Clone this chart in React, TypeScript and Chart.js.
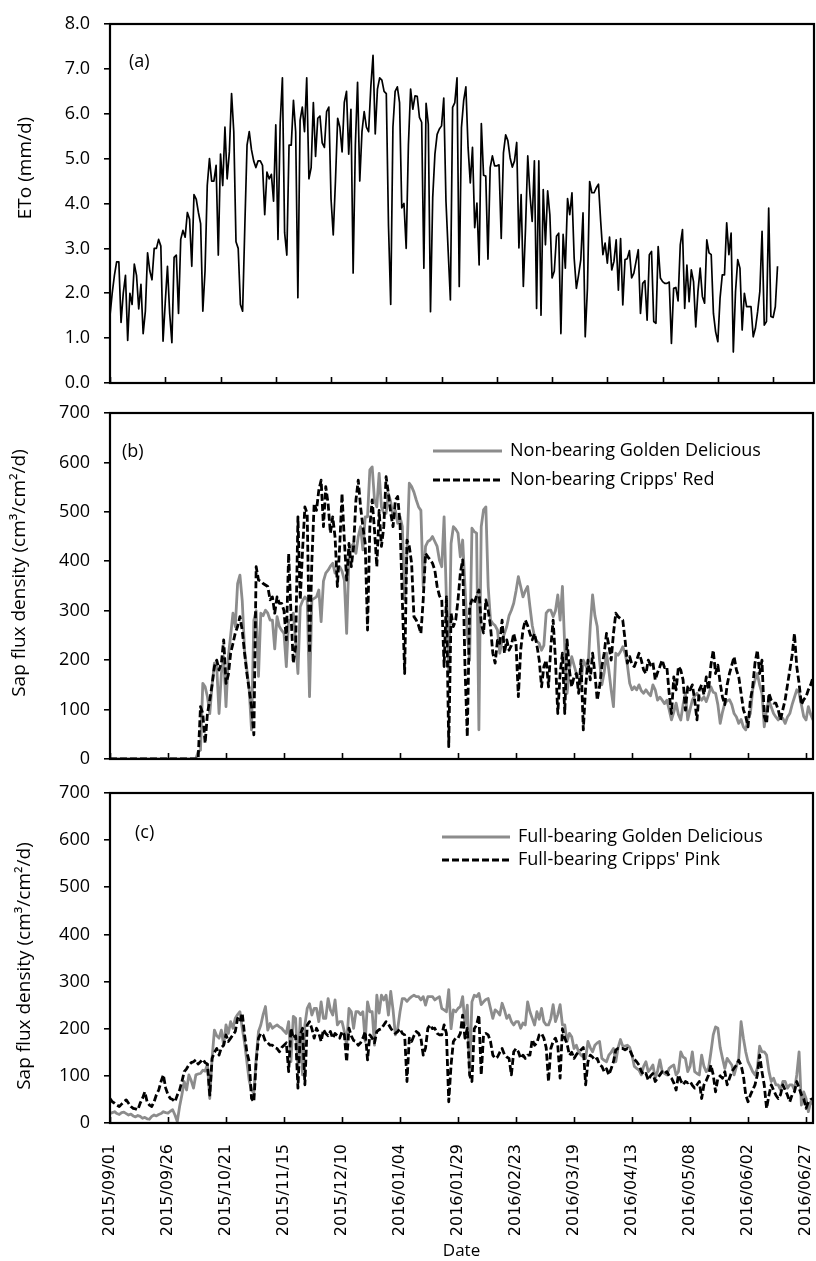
import React, { useEffect, useRef } from 'react';
import { Chart, registerables } from 'chart.js';

Chart.register(...registerables);

// ---------- data ----------
const TICK_DAYS = [0, 25, 50, 75, 100, 125, 150, 175, 200, 225, 250, 275, 300];
const DATE_LABELS = [
  '2015/09/01', '2015/09/26', '2015/10/21', '2015/11/15', '2015/12/10', '2016/01/04',
  '2016/01/29', '2016/02/23', '2016/03/19', '2016/04/13', '2016/05/08', '2016/06/02', '2016/06/27',
];

// Reference evapotranspiration (mm/d), daily from 2015/09/01
const ETO = [
  1.5, 2.0, 2.4, 2.7, 2.7, 1.35, 2.0, 2.4, 0.95, 2.0,
  1.75, 2.65, 2.4, 1.65, 2.2, 1.1, 1.6, 2.9, 2.5, 2.3,
  3.0, 3.0, 3.2, 3.05, 0.93, 1.8, 2.6, 1.55, 0.9, 2.8,
  2.85, 1.55, 3.2, 3.4, 3.25, 3.8, 3.65, 2.6, 4.2, 4.1,
  3.8, 3.55, 1.6, 2.5, 4.4, 5.0, 4.5, 4.5, 4.85, 2.85,
  5.1, 4.4, 5.7, 4.55, 5.15, 6.45, 5.6, 3.15, 3.0, 1.75,
  1.6, 3.5, 5.3, 5.6, 5.2, 4.95, 4.8, 4.95, 4.95, 4.85,
  3.75, 4.7, 4.55, 4.65, 4.05, 5.75, 3.2, 5.8, 6.8, 3.35,
  2.85, 5.3, 5.3, 6.3, 5.6, 1.9, 5.85, 6.15, 5.6, 6.8,
  4.55, 4.8, 6.25, 5.05, 5.9, 5.95, 5.35, 5.25, 6.05, 6.15,
  4.1, 3.3, 4.5, 5.9, 5.7, 5.15, 6.25, 6.5, 5.1, 6.1,
  2.45, 5.3, 6.7, 4.5, 5.6, 6.05, 5.7, 5.6, 6.6, 7.3,
  5.55, 6.55, 6.8, 6.75, 6.5, 6.45, 3.5, 1.75, 5.7, 6.5,
  6.6, 6.25, 3.9, 4.0, 3.0, 5.3, 6.55, 6.1, 6.4,
  6.39, 5.92, 5.81, 2.56, 6.23, 5.77, 1.59, 4.13, 5.10, 5.54,
  5.66, 5.73, 6.35, 4.05, 2.93, 1.85, 6.14, 6.25, 6.80, 2.15,
  5.69, 6.29, 6.60, 5.25, 4.46, 5.25, 3.46, 4.01, 2.63, 5.78,
  4.63, 4.61, 2.76, 4.80, 5.06, 4.84, 4.84, 4.86, 3.22, 5.13,
  5.53, 5.40, 5.02, 4.81, 4.95, 5.36, 3.01, 4.20, 2.15, 3.46,
  5.06, 4.20, 3.60, 4.95, 1.66, 4.95, 1.51, 4.31, 3.08, 4.28,
  3.75, 2.34, 2.49, 3.27, 3.34, 1.10, 3.31, 2.56, 4.11, 3.75,
  4.24, 2.78, 2.11, 2.41, 2.75, 3.79, 1.03, 2.11, 4.49, 4.24,
  4.24, 4.35, 4.43, 3.60, 2.86, 3.12, 2.67, 3.25, 2.52, 2.71,
  3.19, 2.07, 3.22, 1.74, 2.75, 2.77, 2.95, 2.34, 2.45, 2.71,
  2.97, 1.55, 2.22, 2.28, 1.40, 2.86, 2.93, 1.37, 1.33, 3.04,
  2.34, 2.26, 2.22, 2.22, 2.25, 0.88, 2.11, 2.13, 1.83, 3.08,
  3.42, 1.66, 2.63, 1.81, 2.52, 2.26, 1.25, 2.04, 2.56, 1.93,
  1.78, 3.19, 2.90, 2.86, 1.55, 1.14, 0.92, 1.89, 2.41, 2.41,
  3.57, 2.86, 3.34, 0.69, 2.04, 2.75, 2.56, 1.18, 2.00, 1.70,
  1.70, 1.70, 1.03, 1.22, 1.59, 2.04, 3.38, 1.29, 1.37, 3.90,
  1.48, 1.46, 1.70, 2.60,
];

// Non-bearing Golden Delicious (cm3/cm2/d)
const NB_GOLDEN = [
  0, 0, 0, 0, 0, 0, 0, 0, 0, 0,
  0, 0, 0, 0, 0, 0, 0, 0, 0, 0,
  0, 0, 0, 0, 0, 0, 0, 0, 0, 0,
  0, 0, 0, 0, 0, 0, 0, 0,
  15, 18, 153, 146, 126, 92, 150, 194, 187, 92,
  173, 207, 106, 207, 250, 295, 268, 355, 372, 320,
  220, 180, 140, 59, 281, 300, 167, 295, 290, 301,
  295, 281, 281, 223, 288, 268, 260, 254, 187, 281,
  281, 295, 240, 173, 308, 320, 328, 322, 126, 322,
  325, 328, 342, 278, 360, 376, 382, 390, 396, 376,
  385, 389, 380, 362, 254, 409, 430, 436, 416, 450,
  470, 423, 490, 490, 585, 591, 524, 510, 578, 510,
  497, 497, 537, 520, 490, 503, 477, 490, 470, 322,
  420, 558, 551, 540, 524, 510, 503, 349, 430, 440,
  443, 450, 440, 430, 402, 389, 490, 322, 173, 436,
  470, 465, 457, 409, 443, 349, 254, 200, 467, 460,
  457, 59, 470, 504, 510, 349, 281, 274, 270, 261,
  214, 240, 254, 268, 290, 301, 315, 340, 369, 349,
  328, 340, 349, 308, 270, 247, 238, 234, 220, 230,
  295, 301, 301, 288, 300, 332, 281, 349, 227, 133,
  180, 207, 190, 173, 165, 153, 200, 190, 180, 268,
  332, 290, 268, 200, 150, 175, 214, 180, 140, 106,
  214, 210, 217, 227, 214, 190, 153, 140, 146, 140,
  150, 138, 133, 140, 133, 128, 150, 140, 119, 125,
  119, 112, 119, 100, 79, 95, 113, 90, 79, 110,
  133, 79, 100, 119, 128, 133, 125, 119, 126, 116,
  130, 146, 135, 133, 110, 72, 95, 113, 118, 120,
  110, 92, 85, 72, 80, 65, 59, 80, 92, 140,
  160, 173, 150, 133, 65, 100, 119, 105, 92, 85,
  79, 85, 82, 72, 85, 92, 110, 125, 140, 133,
  110, 86, 79, 106, 90, 79,
];

// Non-bearing Cripps' Red (cm3/cm2/d)
const NB_CRIPPS_RED = [
  0, 0, 0, 0, 0, 0, 0, 0, 0, 0,
  0, 0, 0, 0, 0, 0, 0, 0, 0, 0,
  0, 0, 0, 0, 0, 0, 0, 0, 0, 0,
  0, 0, 0, 0, 0, 0, 0, 0,
  0, 106, 92, 32, 92, 119, 150, 187, 200, 180,
  194, 241, 153, 170, 214, 234, 255, 268, 288, 260,
  214, 173, 140, 106, 49, 389, 362, 360, 355, 352,
  349, 322, 328, 295, 328, 315, 315, 300, 241, 416,
  295, 194, 227, 490, 322, 423, 510, 496, 214, 400,
  517, 503, 544, 564, 470, 551, 517, 457, 490, 449,
  349, 430, 537, 443, 362, 436, 389, 430, 524, 564,
  510, 470, 436, 261, 470, 524, 463, 389, 503, 430,
  470, 571, 537, 497, 470, 524, 531, 477, 322, 173,
  443, 430, 396, 288, 281, 270, 254, 322, 416, 409,
  403, 396, 382, 349, 330, 322, 187, 328, 25, 295,
  268, 281, 322, 376, 403, 187, 45, 308, 322, 315,
  330, 342, 274, 255, 322, 301, 268, 214, 194, 240,
  234, 281, 214, 241, 220, 230, 254, 234, 126, 220,
  261, 281, 270, 254, 241, 254, 230, 200, 146, 187,
  200, 146, 227, 281, 200, 92, 173, 214, 92, 241,
  180, 146, 166, 173, 133, 200, 59, 146, 200, 160,
  214, 173, 119, 146, 187, 214, 254, 230, 200, 254,
  295, 288, 284, 281, 241, 194, 207, 190, 187, 200,
  214, 200, 180, 173, 200, 190, 195, 160, 175, 187,
  200, 185, 187, 133, 92, 166, 140, 187, 180, 160,
  99, 146, 140, 150, 119, 79, 140, 150, 130, 166,
  140, 190, 220, 173, 190, 153, 125, 110, 150, 173,
  190, 207, 180, 166, 133, 100, 86, 65, 119, 146,
  194, 220, 173, 200, 86, 72, 133, 119, 113, 113,
  100, 79, 100, 120, 150, 180, 210, 254, 187, 153,
  110, 120, 126, 140, 150, 165,
];

// Full-bearing Golden Delicious (cm3/cm2/d)
const FB_GOLDEN = [
  20, 22, 24, 20, 18, 22, 23, 20, 17, 19,
  15, 13, 16, 14, 10, 12, 9, 8, 14, 17,
  15, 18, 20, 24, 22, 21, 25, 28, 17, 3,
  35, 60, 88, 70, 102, 90, 74, 102, 104, 105,
  112, 110, 125, 52, 137, 197, 185, 180, 197, 165,
  208, 190, 215, 201, 222, 230, 236, 201, 170, 130,
  90, 70, 63, 137, 194, 208, 230, 247, 197, 211,
  201, 205, 208, 204, 201, 195, 190, 215, 130, 226,
  222, 116, 222, 102, 208, 243, 253, 229, 243, 243,
  215, 257, 222, 222, 264, 240, 229, 261, 208, 215,
  215, 194, 165, 243, 236, 201, 236, 236, 230, 236,
  173, 257, 236, 236, 165, 271, 233, 271, 261, 271,
  229, 279, 240, 187, 200, 236, 264, 264, 258, 264,
  268, 271, 268, 268, 261, 268, 250, 268, 268, 268,
  261, 265, 268, 243, 240, 236, 283, 200, 240, 236,
  243, 247, 268, 208, 250, 109, 257, 271, 268, 275,
  251, 257, 262, 264, 243, 222, 240, 236, 229, 254,
  240, 222, 229, 215, 208, 215, 215, 201, 212, 208,
  257, 236, 222, 208, 236, 220, 243, 215, 208, 208,
  222, 251, 215, 230, 251, 208, 208, 173, 190, 183,
  158, 165, 151, 144, 140, 137, 173, 160, 151, 165,
  170, 173, 137, 133, 130, 144, 150, 158, 130, 160,
  177, 163, 163, 165, 160, 144, 120, 116, 112, 102,
  120, 130, 109, 115, 123, 95, 110, 134, 109, 105,
  102, 116, 120, 123, 102, 109, 151, 140, 137, 109,
  120, 151, 109, 105, 102, 144, 120, 109, 116, 150,
  187, 204, 201, 160, 137, 116, 137, 130, 123, 102,
  120, 137, 215, 180, 151, 130, 120, 109, 102, 116,
  163, 151, 151, 144, 110, 88, 95, 81, 81, 70,
  88, 88, 74, 81, 81, 70, 102, 151, 38, 66,
  52, 24, 45, 40,
];

// Full-bearing Cripps' Pink (cm3/cm2/d)
const FB_CRIPPS_PINK = [
  52, 45, 42, 38, 35, 40, 45, 49, 42, 35,
  31, 30, 28, 42, 52, 66, 45, 38, 35, 45,
  60, 70, 88, 102, 74, 60, 52, 50, 45, 59,
  70, 88, 109, 115, 123, 128, 130, 134, 125, 130,
  135, 128, 125, 59, 137, 150, 158, 144, 160, 165,
  187, 173, 180, 187, 194, 222, 215, 233, 187, 150,
  130, 52, 45, 130, 180, 190, 187, 173, 170, 165,
  165, 160, 158, 151, 160, 165, 170, 109, 201, 180,
  185, 74, 187, 201, 81, 208, 215, 200, 180, 201,
  190, 173, 198, 190, 185, 194, 180, 190, 185, 180,
  194, 187, 130, 201, 185, 175, 173, 165, 170, 180,
  194, 134, 187, 180, 170, 194, 198, 200, 208, 215,
  210, 201, 194, 190, 194, 200, 190, 187, 88, 180,
  173, 185, 194, 190, 180, 144, 159, 201, 208, 200,
  201, 190, 187, 187, 208, 190, 45, 123, 173, 180,
  180, 190, 229, 180, 201, 102, 88, 200, 208, 229,
  102, 187, 190, 187, 173, 144, 137, 140, 150, 158,
  145, 140, 137, 102, 151, 158, 151, 137, 144, 137,
  144, 144, 177, 165, 170, 187, 190, 180, 160, 88,
  158, 173, 180, 165, 95, 200, 180, 168, 144, 150,
  137, 145, 151, 155, 160, 81, 130, 144, 140, 133,
  137, 123, 120, 109, 115, 102, 115, 130, 155, 158,
  158, 158, 155, 158, 155, 144, 135, 130, 123, 110,
  102, 105, 91, 100, 105, 88, 95, 102, 109, 105,
  109, 100, 95, 85, 70, 102, 90, 81, 88, 85,
  88, 80, 74, 81, 88, 52, 81, 90, 102, 123,
  102, 66, 95, 100, 95, 109, 81, 95, 109, 116,
  123, 133, 123, 100, 60, 45, 59, 70, 81, 102,
  144, 109, 80, 31, 59, 81, 70, 59, 52, 60,
  81, 70, 59, 45, 60, 66, 88, 74, 60, 52,
  31, 45, 50, 52,
];

// ---------- styling ----------
const FONT = '"Open Sans", "DejaVu Sans", sans-serif';
const GRAY = '#8c8c8c';

const toPoints = (arr: number[]) => arr.map((v, i) => ({ x: i, y: v }));

const decorPlugin = {
  id: 'decor',
  afterDatasetsDraw(chart: any, _args: any, opts: any) {
    const { ctx, chartArea: a, scales } = chart;
    const xs = scales.x;
    ctx.save();
    ctx.strokeStyle = '#000';
    ctx.fillStyle = '#000';
    // inside x tick marks
    ctx.lineWidth = 1.6;
    xs.ticks.forEach((t: any) => {
      const px = Math.round(xs.getPixelForValue(t.value)) + 0.5;
      ctx.beginPath();
      ctx.moveTo(px, a.bottom);
      ctx.lineTo(px, a.bottom - 6);
      ctx.stroke();
    });
    // frame
    ctx.lineWidth = 2.2;
    ctx.strokeRect(a.left, a.top, a.right - a.left, a.bottom - a.top);
    // panel letter
    ctx.font = `18px ${FONT}`;
    ctx.textAlign = 'left';
    ctx.textBaseline = 'middle';
    ctx.fillText(opts.letter, a.left + opts.letterDx, a.top + opts.letterDy);
    // legend
    if (opts.legend) {
      const L = opts.legend;
      chart.data.datasets.forEach((ds: any, i: number) => {
        const y = a.top + L.dy + i * L.rowGap;
        ctx.save();
        ctx.strokeStyle = ds.borderColor;
        ctx.lineWidth = ds.borderWidth;
        ctx.setLineDash(ds.borderDash || []);
        ctx.beginPath();
        ctx.moveTo(L.x0, y);
        ctx.lineTo(L.x1, y);
        ctx.stroke();
        ctx.restore();
        ctx.fillText(ds.label, L.tx, y);
      });
    }
    // y-axis title
    ctx.font = `19px ${FONT}`;
    ctx.translate(opts.titleX, opts.titleY);
    ctx.rotate(-Math.PI / 2);
    ctx.textAlign = 'center';
    ctx.fillText(opts.yTitle, 0, 0);
    ctx.restore();
  },
};

type PanelCfg = {
  width: number;
  height: number;
  padTop: number;
  padRight: number;
  xHeight: number;
  xMax: number;
  yMax: number;
  yStep: number;
  yDecimals: number;
  showDates: boolean;
  datasets: any[];
  decor: any;
};

function buildConfig(p: PanelCfg): any {
  return {
    type: 'line',
    data: { datasets: p.datasets },
    plugins: [decorPlugin],
    options: {
      responsive: false,
      animation: false,
      devicePixelRatio: 1,
      layout: { padding: { top: p.padTop, right: p.padRight, bottom: 0, left: 0 } },
      elements: { point: { radius: 0 }, line: { tension: 0, borderJoinStyle: 'round' } },
      plugins: {
        legend: { display: false },
        tooltip: { enabled: false },
        decor: p.decor,
      },
      scales: {
        x: {
          type: 'linear',
          min: 0,
          max: p.xMax,
          afterBuildTicks: (s: any) => {
            s.ticks = TICK_DAYS.map((v) => ({ value: v }));
          },
          afterFit: (s: any) => {
            s.height = p.xHeight;
            s.paddingLeft = 0;
            s.paddingRight = 0;
          },
          grid: { display: false },
          border: { display: false },
          ticks: {
            display: p.showDates,
            autoSkip: false,
            maxRotation: 90,
            minRotation: 90,
            padding: 13,
            color: '#000',
            font: { family: '"DejaVu Sans", sans-serif', size: 16 },
            callback: (v: number) => DATE_LABELS[TICK_DAYS.indexOf(v)] ?? '',
          },
          title: p.showDates
            ? { display: true, text: 'Date', color: '#000', font: { family: FONT, size: 17 }, padding: { top: 0, bottom: 0 } }
            : { display: false },
        },
        y: {
          min: 0,
          max: p.yMax,
          afterFit: (s: any) => {
            s.width = 110;
            s.paddingTop = 0;
            s.paddingBottom = 0;
          },
          grid: { display: true, drawOnChartArea: false, drawTicks: true, tickLength: 6, color: '#000', lineWidth: 1.6 },
          border: { display: false },
          ticks: {
            stepSize: p.yStep,
            padding: 14,
            color: '#000',
            font: { family: FONT, size: 18 },
            callback: (v: number) => v.toFixed(p.yDecimals),
          },
        },
      },
    },
  };
}

function Panel({ top, cfg }: { top: number; cfg: PanelCfg }) {
  const ref = useRef<HTMLCanvasElement | null>(null);
  useEffect(() => {
    if (!ref.current) return;
    const chart = new Chart(ref.current, buildConfig(cfg));
    return () => chart.destroy();
  }, []);
  return (
    <canvas
      ref={ref}
      width={cfg.width}
      height={cfg.height}
      style={{ position: 'absolute', left: 0, top, width: cfg.width, height: cfg.height }}
    />
  );
}

const grayLine = (label: string, data: number[]) => ({
  label,
  data: toPoints(data),
  borderColor: GRAY,
  borderWidth: 2.8,
  order: 2,
});
const dashLine = (label: string, data: number[]) => ({
  label,
  data: toPoints(data),
  borderColor: '#000',
  borderWidth: 2.8,
  borderDash: [7, 3],
  order: 1,
});

export default function App() {
  const W = 816;
  const panelA: PanelCfg = {
    width: W, height: 400, padTop: 24, padRight: 2, xHeight: 17, xMax: 318.5,
    yMax: 8, yStep: 1, yDecimals: 1, showDates: false,
    datasets: [{ label: 'ETo', data: toPoints(ETO), borderColor: '#000', borderWidth: 1.7 }],
    decor: { letter: '(a)', letterDx: 19, letterDy: 38, yTitle: 'ETo (mm/d)', titleX: 26, titleY: 168 },
  };
  const panelB: PanelCfg = {
    width: W, height: 380, padTop: 18, padRight: 3, xHeight: 16, xMax: 303,
    yMax: 700, yStep: 100, yDecimals: 0, showDates: false,
    datasets: [
      grayLine('Non-bearing Golden Delicious', NB_GOLDEN),
      dashLine("Non-bearing Cripps' Red", NB_CRIPPS_RED),
    ],
    decor: {
      letter: '(b)', letterDx: 12, letterDy: 39,
      legend: { x0: 433, x1: 502, tx: 510, dy: 38, rowGap: 29 },
      yTitle: 'Sap flux density (cm³/cm²/d)', titleX: 20, titleY: 573 - 395,
    },
  };
  const panelC: PanelCfg = {
    width: W, height: 486, padTop: 18, padRight: 3, xHeight: 138, xMax: 303,
    yMax: 700, yStep: 100, yDecimals: 0, showDates: true,
    datasets: [
      grayLine('Full-bearing Golden Delicious', FB_GOLDEN),
      dashLine("Full-bearing Cripps' Pink", FB_CRIPPS_PINK),
    ],
    decor: {
      letter: '(c)', letterDx: 25, letterDy: 40,
      legend: { x0: 442, x1: 510, tx: 518, dy: 44, rowGap: 23 },
      yTitle: 'Sap flux density (cm³/cm²/d)', titleX: 25, titleY: 966 - 775,
    },
  };
  return (
    <div style={{ position: 'absolute', left: 0, top: 0, width: W, height: 1261, background: '#fff' }}>
      <Panel top={0} cfg={panelA} />
      <Panel top={395} cfg={panelB} />
      <Panel top={775} cfg={panelC} />
    </div>
  );
}
